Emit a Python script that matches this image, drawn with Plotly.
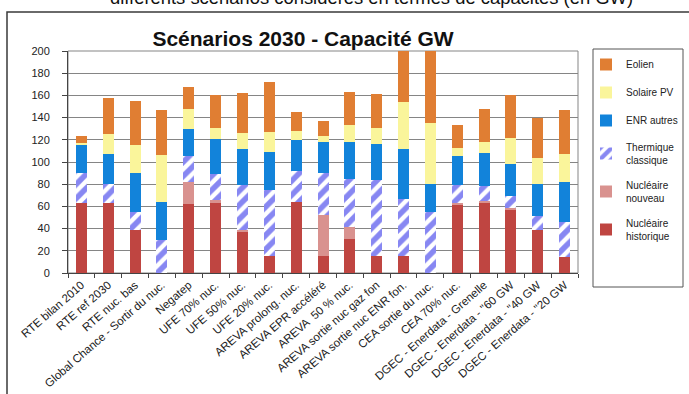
import plotly.graph_objects as go

# Installed capacity by technology in 2030 scenarios (GW)
scenarios = [
    "RTE bilan 2010", "RTE ref 2030", "RTE nuc. bas", "Global Chance - Sortir du nuc.",
    "Negatep", "UFE 70% nuc.", "UFE 50% nuc.", "UFE 20% nuc.",
    "AREVA prolong. nuc.", "AREVA EPR accéléré", "AREVA  50 % nuc.",
    "AREVA sortie nuc gaz fon", "AREVA sortie nuc ENR fon.", "CEA sortie du nuc.",
    "CEA 70% nuc.", "DGEC - Enerdata - Grenelle", "DGEC - Enerdata - \"60 GW",
    "DGEC - Enerdata - \"40 GW", "DGEC - Enerdata - \"20 GW",
]
nucleaire_historique = [63, 63, 39, 0, 62, 63, 37, 15, 64, 15, 31, 15, 15, 0, 61, 63, 57, 39, 14]
nucleaire_nouveau    = [0, 0, 0, 0, 20, 3, 2, 0, 0, 37, 10, 0, 0, 0, 2, 2, 2, 0, 0]
thermique_classique  = [27, 17, 16, 30, 23, 23, 40, 60, 28, 38, 44, 69, 52, 55, 16, 13, 10, 12, 32]
enr_autres           = [26, 27, 35, 34, 25, 32, 33, 34, 28, 28, 33, 32, 45, 25, 26, 30, 29, 29, 36]
solaire_pv           = [1, 18, 25, 42, 18, 10, 14, 18, 8, 5, 15, 15, 42, 55, 8, 10, 24, 24, 25]
eolien               = [6, 33, 40, 41, 20, 29, 36, 45, 17, 14, 30, 30, 73, 105, 20, 30, 38, 36, 40]

y_ticks = list(range(0, 201, 20))

FONT = "Liberation Sans, Arial, sans-serif"

# page geometry (px) used to express paper coordinates
W, H = 689, 394
ML, MR, MT, MB = 68, 111, 51, 121
PW, PH = W - ML - MR, H - MT - MB


def px(x):
    return (x - ML) / PW


def py(y):
    return (H - MB - y) / PH


fig = go.Figure()

# stacked bottom to top; legend lists them top to bottom
series = [
    ("Nucléaire<br>historique", nucleaire_historique, dict(color="#BF4541")),
    ("Nucléaire<br>nouveau", nucleaire_nouveau, dict(color="#D9928F")),
    ("Thermique<br>classique", thermique_classique,
     dict(color="white", pattern=dict(shape="/", fgcolor="#0F0FE6", bgcolor="white",
                                      size=10, solidity=0.55))),
    ("ENR autres", enr_autres, dict(color="#1283DA")),
    ("Solaire PV", solaire_pv, dict(color="#FAF59B")),
    ("Eolien", eolien, dict(color="#E07E33")),
]

n = len(series)
for i, (name, values, marker) in enumerate(series):
    fig.add_trace(go.Bar(
        x=scenarios, y=values, name=name, legendgroup=name, legendrank=n - i,
        marker=dict(line=dict(width=0), **marker),
        cliponaxis=False,
    ))

fig.update_layout(
    width=W, height=H,
    margin=dict(l=ML, r=MR, t=MT, b=MB, autoexpand=False),
    barmode="stack", bargap=0.59,
    paper_bgcolor="white", plot_bgcolor="rgba(0,0,0,0)",
    font=dict(family=FONT, color="#222"),
    showlegend=True,
    legend=dict(
        x=px(586), y=py(50), xanchor="left", yanchor="top",
        bgcolor="rgba(0,0,0,0)", borderwidth=0,
        font=dict(size=10, family=FONT, color="#222"),
        itemwidth=30, traceorder="grouped", tracegroupgap=9, maxheight=380,
    ),
)

fig.update_xaxes(
    type="category", tickangle=-41, tickfont=dict(size=11.5, family=FONT, color="#222"),
    ticks="outside", tickson="boundaries", ticklen=4, tickcolor="#444",
    showline=True, linecolor="#444", linewidth=1, showgrid=False,
)
fig.update_yaxes(
    range=[0, 200], tickvals=y_ticks, tickfont=dict(size=11, family=FONT, color="#222"),
    ticks="outside", ticklen=5, tickcolor="#444", ticklabelstandoff=10,
    showline=True, linecolor="#444", linewidth=1,
    showgrid=True, gridcolor="#858585", gridwidth=1, zeroline=False,
)

shapes = [
    # outer frame of the chart
    dict(type="rect", xref="paper", yref="paper", x0=px(7), x1=px(730), y0=py(430), y1=py(12),
         line=dict(color="#3A3A3A", width=1.5), fillcolor="rgba(0,0,0,0)", layer="below"),
    # plot area border
    dict(type="rect", xref="paper", yref="paper", x0=0, x1=1, y0=0, y1=1,
         line=dict(color="#858585", width=1), fillcolor="rgba(0,0,0,0)", layer="below"),
    # legend frame
    dict(type="rect", xref="paper", yref="paper", x0=px(593), x1=px(683), y0=py(287), y1=py(49),
         line=dict(color="#555", width=1), fillcolor="rgba(0,0,0,0)", layer="below"),
    # chart title, kept underneath the bars
    dict(type="rect", xref="paper", yref="paper", x0=px(150), x1=px(456), y0=py(50), y1=py(22),
         line=dict(width=0), fillcolor="rgba(0,0,0,0)", layer="below",
         label=dict(text="<b>Scénarios 2030 - Capacité GW</b>", textposition="middle center",
                    font=dict(size=21, family=FONT, color="#111"))),
]
fig.update_layout(shapes=shapes)

fig.add_annotation(
    text="différents scénarios considérés en termes de capacités (en GW)",
    xref="paper", yref="paper", x=px(371), y=py(-3), xanchor="center", yanchor="middle",
    showarrow=False, font=dict(size=18.4, family=FONT, color="#111"),
)

fig.write_html("out.html")
